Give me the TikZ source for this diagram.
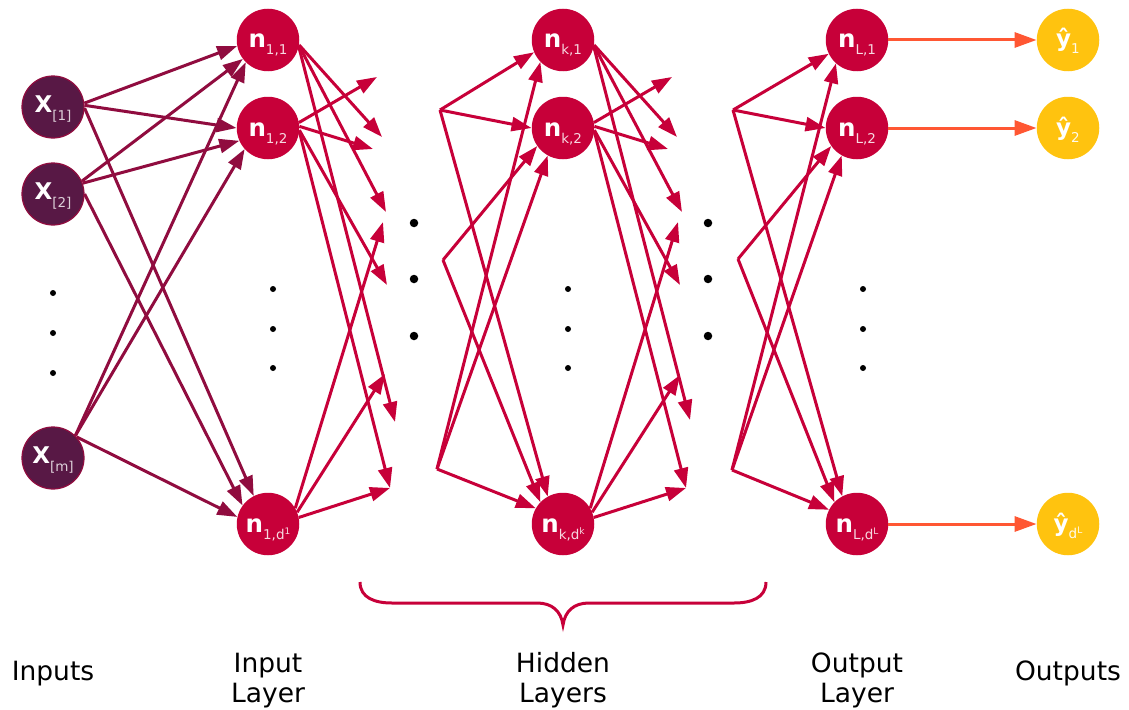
\documentclass[tikz,border=0pt]{standalone}
\usepackage{fontspec}
\setmainfont{DejaVu Sans}
\usetikzlibrary{arrows.meta}
\definecolor{cA}{HTML}{581845}
\definecolor{cB}{HTML}{900C3F}
\definecolor{cC}{HTML}{C70039}
\definecolor{cD}{HTML}{FF5733}
\definecolor{cE}{HTML}{FFC30F}
\colorlet{subA}{white!80!cA}
\colorlet{subC}{white!85!cC}
\colorlet{subE}{white!92!cE}
\newcommand{\neulab}[1]{{\fontsize{24.5}{24.5}\selectfont\bfseries n}\raisebox{-7pt}{\fontsize{13.5}{13.5}\selectfont\color{subC}#1}}
\newcommand{\xlab}[1]{{\fontsize{23}{23}\selectfont\bfseries X}\raisebox{-8pt}{\fontsize{13.5}{13.5}\selectfont\color{subA}#1}}
\newcommand{\ylab}[1]{{\fontsize{23}{23}\selectfont\bfseries ŷ}\raisebox{-7pt}{\fontsize{13.5}{13.5}\selectfont\color{subE}#1}}
\newcommand{\supx}[1]{\raisebox{5pt}{\fontsize{9}{9}\selectfont #1}}
\tikzset{
  inp/.style={circle, fill=cA, draw=cB, line width=1.2pt, minimum size=62pt, inner sep=0pt, text=white, text height=10pt, text depth=0pt},
  neu/.style={circle, fill=cC, minimum size=62.5pt, inner sep=0pt, text=white, text height=16pt, text depth=0pt},
  outn/.style={circle, fill=cE, minimum size=62.5pt, inner sep=0pt, text=white, text height=14pt, text depth=0pt},
  e1/.style={draw=cB, line width=3pt, -{Triangle[length=20pt,width=14pt]}},
  e2/.style={draw=cC, line width=3pt, -{Triangle[length=20pt,width=14pt]}},
  e3/.style={draw=cD, line width=3pt, -{Triangle[length=22pt,width=15pt]}},
  sdot/.style={circle, fill=black, inner sep=0pt, minimum size=6pt},
  bdot/.style={circle, fill=black, inner sep=0pt, minimum size=8.5pt},
  lbl/.style={font=\fontsize{26.5}{30}\selectfont, align=center, text=black, anchor=base},
  bracestyle/.style={draw=cC, line width=3pt},
}
\begin{document}
\begin{tikzpicture}[x=1pt, y=-1pt]
\fill[white] (0,0) rectangle (1129,709);
\useasboundingbox (0,0) rectangle (1129,709);

% nodes
\node[inp] (x1) at (53,107) {\xlab{[1]}};
\node[inp] (x2) at (53,194) {\xlab{[2]}};
\node[inp] (xm) at (53,458) {\xlab{[m]}};

\node[neu] (n11) at (268,40) {\neulab{1,1}};
\node[neu] (n12) at (268,128) {\neulab{1,2}};
\node[neu] (n1d) at (268,524) {\neulab{1,d\supx{1}}};

\node[neu] (nk1) at (563,40) {\neulab{k,1}};
\node[neu] (nk2) at (563,128) {\neulab{k,2}};
\node[neu] (nkd) at (563,524) {\neulab{k,d\supx{k}}};

\node[neu] (nL1) at (857,40) {\neulab{L,1}};
\node[neu] (nL2) at (857,128) {\neulab{L,2}};
\node[neu] (nLd) at (857,524) {\neulab{L,d\supx{L}}};

\node[outn] (y1) at (1068,40) {\ylab{1}};
\node[outn] (y2) at (1068,128) {\ylab{2}};
\node[outn] (yd) at (1068,524) {\ylab{d\supx{L}}};

% free coordinates
\coordinate (t1) at (377,77);
\coordinate (t2) at (382,137);
\coordinate (t3) at (373,149);
\coordinate (t4) at (386,212);
\coordinate (t5) at (383,222);
\coordinate (t6) at (387,285);
\coordinate (t7) at (385,374);
\coordinate (t8) at (395,422);
\coordinate (t9) at (390,488);

\coordinate (u1) at (672,77);
\coordinate (u2) at (677,137);
\coordinate (u3) at (668,149);
\coordinate (u4) at (682,212);
\coordinate (u5) at (678,222);
\coordinate (u6) at (680,285);
\coordinate (u7) at (680,375);
\coordinate (u8) at (690,420);
\coordinate (u9) at (686,488);

\coordinate (hA) at (440,110);
\coordinate (hB) at (443,260);
\coordinate (hC) at (437,469);
\coordinate (oA) at (733,110);
\coordinate (oB) at (738,259);
\coordinate (oC) at (732,470);

% inputs -> input layer
\draw[e1] (x1.7) -- (n11.191);
\draw[e1] (x1.3) -- (n12.180);
\draw[e1] (x1.-2) -- (n1d.117);
\draw[e1] (x2.24) -- (n11.217);
\draw[e1] (x2.20) -- (n12.204);
\draw[e1] (x2.0) -- (n1d.144);
\draw[e1] (xm.45) -- (n11.225);
\draw[e1] (xm.45) -- (n12.222);
\draw[e1] (xm.42) -- (n1d.167);

% input layer -> right
\draw[e2] (n11.-9) -- (t2);
\draw[e2] (n11.-10) -- (t4);
\draw[e2] (n11.-12) -- (t8);
\draw[e2] (n12.10) -- (t1);
\draw[e2] (n12.3) -- (t3);
\draw[e2] (n12.-4) -- (t6);
\draw[e2] (n12.-6) -- (t9);
\draw[e2] (n1d.30) -- (t5);
\draw[e2] (n1d.22) -- (t7);
\draw[e2] (n1d.12) -- (t9);

% hidden layer k: in
\draw[e2] (hA) -- (nk1.203);
\draw[e2] (hA) -- (nk2.180);
\draw[e2] (hA) -- (nkd.119);
\draw[e2] (hB) -- (nk2.215);
\draw[e2] (hB) -- (nkd.136);
\draw[e2] (hC) -- (nk1.224);
\draw[e2] (hC) -- (nk2.241);
\draw[e2] (hC) -- (nkd.150);

% hidden layer k: out
\draw[e2] (nk1.-9) -- (u2);
\draw[e2] (nk1.-10) -- (u4);
\draw[e2] (nk1.-12) -- (u8);
\draw[e2] (nk2.10) -- (u1);
\draw[e2] (nk2.3) -- (u3);
\draw[e2] (nk2.-4) -- (u6);
\draw[e2] (nk2.-6) -- (u9);
\draw[e2] (nkd.30) -- (u5);
\draw[e2] (nkd.22) -- (u7);
\draw[e2] (nkd.12) -- (u9);

% output layer: in
\draw[e2] (oA) -- (nL1.206);
\draw[e2] (oA) -- (nL2.180);
\draw[e2] (oA) -- (nLd.118);
\draw[e2] (oB) -- (nL2.215);
\draw[e2] (oB) -- (nLd.136);
\draw[e2] (oC) -- (nL1.228);
\draw[e2] (oC) -- (nL2.241);
\draw[e2] (oC) -- (nLd.153);

% outputs
\draw[e3] (nL1.east) -- (y1.west);
\draw[e3] (nL2.east) -- (y2.west);
\draw[e3] (nLd.east) -- (yd.west);

% dots
\foreach \yy [count=\i] in {293,333,373} \node[sdot] (dx\i) at (53,\yy) {};
\foreach \yy [count=\i] in {289,329,368} {
  \node[sdot] (da\i) at (273,\yy) {};
  \node[sdot] (db\i) at (568,\yy) {};
  \node[sdot] (dc\i) at (863,\yy) {};
}
\foreach \yy [count=\i] in {223,279,336} {
  \node[bdot] (bd\i) at (414,\yy) {};
  \node[bdot] (be\i) at (708,\yy) {};
}

% brace
\draw[bracestyle] (360,582) .. controls (360,598) and (375,603) .. (392,603) -- (537,603)
  .. controls (552,603) and (561,611) .. (563,625)
  .. controls (565,611) and (574,603) .. (589,603) -- (734,603)
  .. controls (751,603) and (766,598) .. (766,582);

% labels
\node[lbl] (lin) at (53,680) {Inputs};
\node[lbl] (lil) at (268,702) {Input\\Layer};
\node[lbl] (lhl) at (563,702) {Hidden\\Layers};
\node[lbl] (lol) at (857,702) {Output\\Layer};
\node[lbl] (lout) at (1068,680) {Outputs};
\end{tikzpicture}
\end{document}
